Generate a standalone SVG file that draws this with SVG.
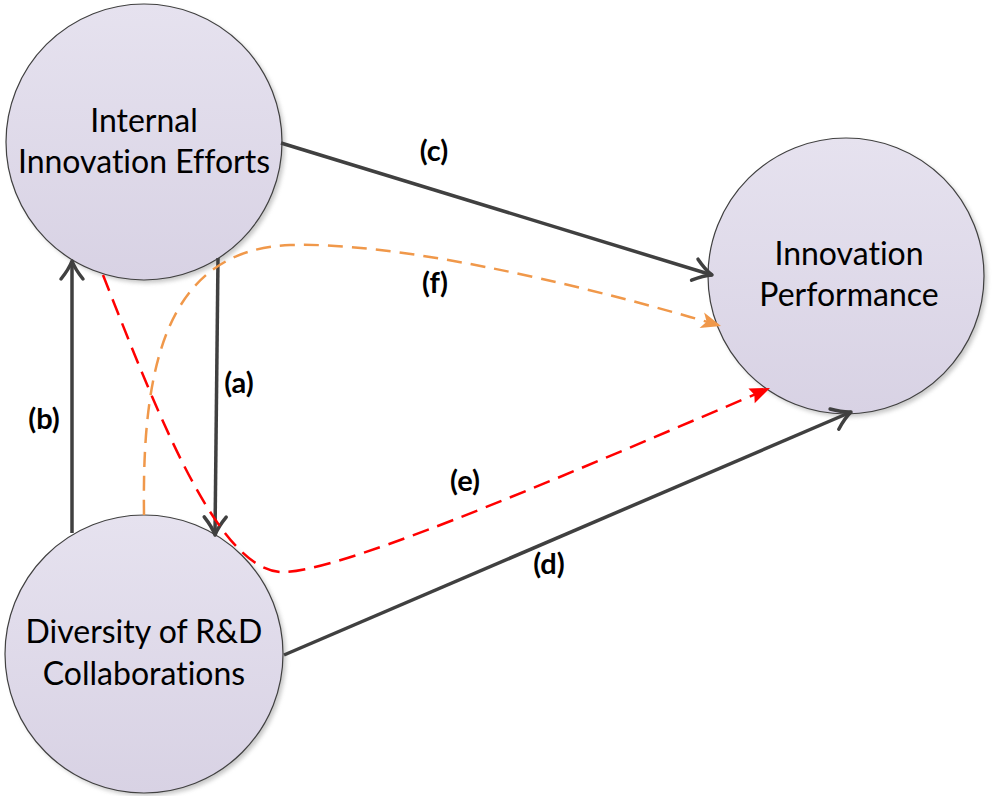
<svg xmlns="http://www.w3.org/2000/svg" width="992" height="796" viewBox="0 0 992 796">
<style>
.node{stroke:#404040;stroke-width:1.2;fill:url(#g)}
.shadow{fill:#9a9a9a;opacity:0.55;filter:url(#blur)}
.lbl{font-family:Lato,"Open Sans",sans-serif;font-size:32px;fill:#000;text-anchor:middle;font-variant-ligatures:none}
.tag{font-family:Lato,"Open Sans",sans-serif;font-size:29px;font-weight:bold;fill:#000;text-anchor:middle;font-variant-ligatures:none}
.solid{fill:none;stroke:#404040;stroke-width:3.5}
.org{fill:none;stroke:#F0984A;stroke-width:2.5;stroke-dasharray:15 9}
.red{fill:none;stroke:#FF0000;stroke-width:2.5;stroke-dasharray:17 9}
</style>
<defs>
<linearGradient id="g" x1="0" y1="0" x2="0" y2="1">
<stop offset="0" stop-color="#E6E2EF"/>
<stop offset="1" stop-color="#D8D2E4"/>
</linearGradient>
<filter id="blur" x="-10%" y="-10%" width="120%" height="120%"><feGaussianBlur stdDeviation="2"/></filter>
<marker id="chev" viewBox="-22 -14 26 28" markerWidth="26" markerHeight="28" refX="0" refY="0" orient="auto" markerUnits="userSpaceOnUse">
<path d="M-18,-11 Q-8,-3 0,0 Q-8,3 -18,11" fill="none" stroke="#404040" stroke-width="3.5" stroke-linecap="round" stroke-linejoin="round"/>
</marker>
<marker id="otri" viewBox="-22 -10 24 20" markerWidth="24" markerHeight="20" refX="0" refY="0" orient="auto" markerUnits="userSpaceOnUse">
<path d="M0,0 L-20,-8 L-15,0 L-20,8 Z" fill="#F0984A"/>
</marker>
<marker id="rtri" viewBox="-22 -10 24 20" markerWidth="24" markerHeight="20" refX="0" refY="0" orient="auto" markerUnits="userSpaceOnUse">
<path d="M0,0 L-20,-8 L-17,0 L-20,8 Z" fill="#FF0000"/>
</marker>
</defs>
<rect width="992" height="796" fill="#FFFFFF"/>
<g id="internal">
<circle class="shadow" cx="147" cy="145" r="138"/>
<circle class="node" cx="144" cy="142" r="138"/>
<text class="lbl" x="144" y="132">Internal</text>
<text class="lbl" x="144" y="173">Innovation Efforts</text>
</g>
<g id="diversity">
<circle class="shadow" cx="147" cy="657" r="139"/>
<circle class="node" cx="144" cy="654" r="139"/>
<text class="lbl" x="144" y="643">Diversity of R&amp;D</text>
<text class="lbl" x="144" y="685">Collaborations</text>
</g>
<g id="performance">
<circle class="shadow" cx="849" cy="279" r="138"/>
<circle class="node" cx="846" cy="276" r="138"/>
<text class="lbl" x="849" y="265">Innovation</text>
<text class="lbl" x="849" y="306">Performance</text>
</g>
<g id="connectors">
<line class="solid" x1="281" y1="143" x2="712" y2="275" marker-end="url(#chev)"/>
<line class="solid" x1="284" y1="655" x2="851" y2="412" marker-end="url(#chev)"/>
<line class="solid" x1="72" y1="533" x2="72" y2="261" marker-end="url(#chev)"/>
<line class="solid" x1="218" y1="258" x2="215" y2="535" marker-end="url(#chev)"/>
<path class="org" d="M144,515 C142,375 162,250 290,245 C390,242 560,278 721,326" marker-end="url(#otri)"/>
<path class="red" d="M103,275 C160,420 220,575 285,572 C350,570 600,460 770,388" marker-end="url(#rtri)"/>
<text class="tag" x="434" y="161">(c)</text>
<text class="tag" x="435" y="293">(f)</text>
<text class="tag" x="239" y="393">(a)</text>
<text class="tag" x="44" y="429">(b)</text>
<text class="tag" x="465" y="491">(e)</text>
<text class="tag" x="549" y="574">(d)</text>
</g>
</svg>
